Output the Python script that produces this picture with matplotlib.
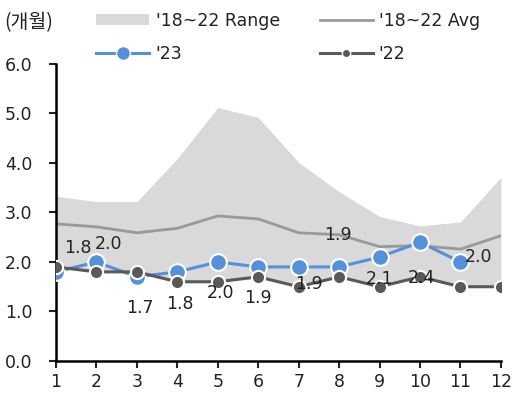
import matplotlib
matplotlib.use("Agg")
import matplotlib.pyplot as plt
from matplotlib.patches import Patch
from matplotlib.lines import Line2D

plt.rcParams['font.family'] = ['DejaVu Sans', 'Noto Sans CJK KR']

months = [1, 2, 3, 4, 5, 6, 7, 8, 9, 10, 11, 12]
range_high = [3.33, 3.22, 3.22, 4.09, 5.12, 4.92, 4.01, 3.42, 2.92, 2.73, 2.81, 3.71]
range_low = [1.9, 1.8, 1.8, 1.6, 1.6, 1.7, 1.5, 1.7, 1.5, 1.7, 1.5, 1.5]
avg_18_22 = [2.77, 2.71, 2.59, 2.68, 2.93, 2.87, 2.59, 2.55, 2.31, 2.33, 2.26, 2.53]
y2023 = [1.8, 2.0, 1.7, 1.8, 2.0, 1.9, 1.9, 1.9, 2.1, 2.4, 2.0]
y2022 = [1.9, 1.8, 1.8, 1.6, 1.6, 1.7, 1.5, 1.7, 1.5, 1.7, 1.5, 1.5]

# label offsets (pixels) for the '23 value labels
label_dx = [22, 12, 3, 3, 3, 0, 10, -1, 0, 1, 18]
label_dy = [24, 18, -31, -32, -31, -31, -17, 32, -22, -36, 5]

c_range = '#D9D9D9'
c_avg = '#999999'
c_23 = '#5590DB'
c_22 = '#595959'
c_text = '#222222'

fig = plt.figure(figsize=(5.15, 3.94), dpi=100)
ax = fig.add_axes([0.1087, 0.0838, 0.8640, 0.7538])

ax.fill_between(months, range_low, range_high, color=c_range, linewidth=0, zorder=1)
ax.plot(months, avg_18_22, color=c_avg, linewidth=2.0, zorder=2)
ax.plot(months[:len(y2023)], y2023, color=c_23, linewidth=2.2, marker='o',
        markersize=12, markerfacecolor=c_23, markeredgecolor='white',
        markeredgewidth=1.5, zorder=3)
ax.plot(months, y2022, color=c_22, linewidth=2.2, marker='o',
        markersize=9.5, markerfacecolor=c_22, markeredgecolor='white',
        markeredgewidth=1.5, zorder=4)

for m, v, dx, dy in zip(months, y2023, label_dx, label_dy):
    ax.annotate(f'{v:.1f}', (m, v), xytext=(dx, dy), textcoords='offset pixels',
                ha='center', va='center', fontsize=12.5, color=c_text, zorder=6)

ax.set_xlim(1, 12)
ax.set_ylim(0, 6)
ax.set_xticks(months)
ax.set_yticks([0, 1, 2, 3, 4, 5, 6])
ax.set_yticklabels([f'{t:.1f}' for t in range(7)])
ax.tick_params(axis='both', labelsize=12.5, colors=c_text, direction='out',
               length=5, width=1.5, pad=4)
ax.tick_params(axis='y', pad=12)
for s in ['top', 'right']:
    ax.spines[s].set_visible(False)
for s in ['left', 'bottom']:
    ax.spines[s].set_linewidth(1.8)
    ax.spines[s].set_color('black')

fig.text(0.008, 0.942, '(개월)', fontsize=14, color=c_text, va='center', ha='left',
         family=['Noto Sans CJK KR', 'DejaVu Sans'])

handles = [
    Patch(facecolor=c_range, edgecolor='none'),
    Line2D([], [], color=c_23, linewidth=2.2, marker='o', markersize=10,
           markerfacecolor=c_23, markeredgecolor='white'),
    Line2D([], [], color=c_avg, linewidth=2.0),
    Line2D([], [], color=c_22, linewidth=2.2, marker='o', markersize=6,
           markerfacecolor=c_22, markeredgecolor='white'),
]
labels = ["'18~22 Range", "'23", "'18~22 Avg", "'22"]
fig.legend(handles, labels, loc='upper left', bbox_to_anchor=(0.157, 1.01),
           ncol=2, frameon=False, fontsize=12.5, handlelength=3.05,
           handleheight=0.6, handletextpad=0.35, columnspacing=2.3,
           labelspacing=0.9, labelcolor=c_text)

fig.savefig('out.png', dpi=100)
